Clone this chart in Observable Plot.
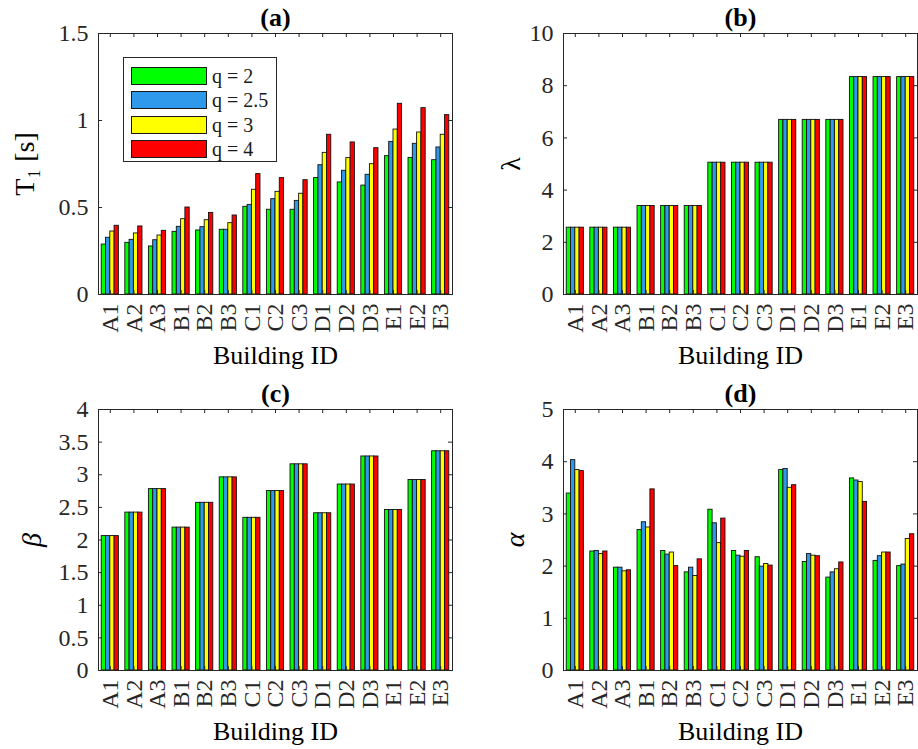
<!DOCTYPE html>
<html>
<head>
<meta charset="utf-8">
<script src="https://cdn.jsdelivr.net/npm/d3@7"></script>
<script src="https://cdn.jsdelivr.net/npm/@observablehq/plot@0.6"></script>
<style>
  body { margin: 0; background: #fff; }
  #fig { position: relative; width: 918px; height: 749px; font-family: "Liberation Serif", "DejaVu Serif", serif; color: #262626; }
  #fig svg, #fig svg text { font-family: "Liberation Serif", "DejaVu Serif", serif !important; }
  .panel { position: absolute; }
  .legend { position: absolute; box-sizing: border-box; background: #fff; border: 1px solid #262626; padding: 6px 0 0 7px; }
  .legend .row { display: flex; align-items: center; height: 24.3px; }
  .legend .sw { width: 76px; height: 18px; box-sizing: border-box; border: 1px solid #1a1a1a; margin-right: 5px; }
  .legend .lab { font-size: 20px; line-height: 18px; color: #1a1a1a; }
</style>
</head>
<body>
<div id="fig"></div>
<script>
// Building identifiers along every x axis
const buildings = ["A1", "A2", "A3", "B1", "B2", "B3", "C1", "C2", "C3", "D1", "D2", "D3", "E1", "E2", "E3"];

// Behaviour factors and their bar colours
const qLabels = ["q = 2", "q = 2.5", "q = 3", "q = 4"];
const qColors = ["#00ff00", "#2e98ea", "#ffff00", "#ff0000"];

// (a) fundamental period T1 [s]
const periodQ2  = [0.287, 0.297, 0.276, 0.360, 0.368, 0.372, 0.504, 0.487, 0.487, 0.670, 0.644, 0.626, 0.795, 0.785, 0.772];
const periodQ25 = [0.326, 0.314, 0.312, 0.389, 0.387, 0.372, 0.515, 0.548, 0.538, 0.743, 0.711, 0.688, 0.877, 0.866, 0.845];
const periodQ3  = [0.362, 0.351, 0.339, 0.433, 0.427, 0.410, 0.602, 0.590, 0.579, 0.814, 0.784, 0.749, 0.948, 0.931, 0.918];
const periodQ4  = [0.395, 0.391, 0.366, 0.500, 0.469, 0.454, 0.692, 0.669, 0.657, 0.918, 0.874, 0.841, 1.096, 1.071, 1.031];

// (b) lambda, identical for every q
const lambda = [2.56, 2.56, 2.56, 3.39, 3.39, 3.39, 5.05, 5.05, 5.05, 6.69, 6.69, 6.69, 8.33, 8.33, 8.33];

// (c) beta, identical for every q
const beta = [2.06, 2.42, 2.78, 2.19, 2.57, 2.96, 2.34, 2.75, 3.16, 2.41, 2.85, 3.28, 2.46, 2.92, 3.36];

// (d) alpha
const alphaQ2  = [3.39, 2.28, 1.97, 2.69, 2.29, 1.88, 3.08, 2.29, 2.17, 3.84, 2.08, 1.78, 3.68, 2.10, 2.00];
const alphaQ25 = [4.03, 2.29, 1.97, 2.84, 2.22, 1.97, 2.82, 2.20, 1.99, 3.86, 2.23, 1.88, 3.64, 2.19, 2.03];
const alphaQ3  = [3.84, 2.23, 1.90, 2.74, 2.26, 1.81, 2.44, 2.18, 2.04, 3.50, 2.20, 1.94, 3.61, 2.26, 2.52];
const alphaQ4  = [3.82, 2.28, 1.92, 3.47, 2.00, 2.13, 2.91, 2.29, 2.01, 3.55, 2.19, 2.07, 3.23, 2.26, 2.61];

// y-axis ticks per panel
const ticksA = [0, 0.5, 1, 1.5];
const ticksB = [0, 2, 4, 6, 8, 10];
const ticksC = [0, 0.5, 1, 1.5, 2, 2.5, 3, 3.5, 4];
const ticksD = [0, 1, 2, 3, 4, 5];

const ink = "#262626";
const serif = "Liberation Serif, DejaVu Serif, serif";
const fig = document.getElementById("fig");

function panel({title, ylabel, yItalic, series, yMax, yTicks, labelOffset, left, top, marginLeft, marginRight}) {
  const width = 459, height = 374, marginTop = 33, marginBottom = 80;
  const innerW = width - marginLeft - marginRight;
  const innerH = height - marginTop - marginBottom;
  const idx = buildings.map((_, i) => i + 1);

  // grouped bars: group occupies n/(n+1.5) of each category slot
  const groupW = series.length / (series.length + 1.5);
  const barW = groupW / series.length;
  const rows = [];
  series.forEach((vals, s) => vals.forEach((v, i) => rows.push({pos: i + 1, s, q: qLabels[s], v})));
  const x1 = d => d.pos - groupW / 2 + barW * d.s;

  const chart = Plot.plot({
    width, height, marginLeft, marginRight, marginTop, marginBottom,
    x: {domain: [0.5, buildings.length + 0.5]},
    y: {domain: [0, yMax]},
    color: {domain: qLabels, range: qColors},
    style: {fontFamily: serif, fontSize: "24px", color: ink, background: "transparent", overflow: "visible"},
    marks: [
      Plot.rectY(rows, {x1, x2: d => x1(d) + barW, y1: 0, y2: "v", fill: "q", stroke: "#111", strokeWidth: 0.9}),
      Plot.frame({stroke: ink, strokeWidth: 1}),
      // inward ticks on all four sides
      Plot.ruleX(idx, {x: d => d, insetTop: innerH - 4, stroke: ink}),
      Plot.ruleX(idx, {x: d => d, insetBottom: innerH - 4, stroke: ink}),
      Plot.ruleY(yTicks, {y: d => d, insetLeft: innerW - 4, stroke: ink}),
      Plot.ruleY(yTicks, {y: d => d, insetRight: innerW - 4, stroke: ink}),
      Plot.axisX(idx, {tickSize: 0, tickPadding: 9, tickRotate: -90, tickFormat: i => buildings[i - 1], label: null, fontSize: 24, fontFamily: serif}),
      Plot.axisY(yTicks, {tickSize: 0, tickPadding: 10, tickFormat: d => String(d), label: null, fontSize: 24, fontFamily: serif}),
      Plot.text(["Building ID"], {frameAnchor: "bottom", lineAnchor: "middle", dy: 61, fontSize: 26, fontFamily: serif, fill: "#000"}),
      Plot.text([ylabel], {frameAnchor: "left", textAnchor: "middle", lineAnchor: "middle", dx: -labelOffset, rotate: -90, fontSize: 28, fontFamily: serif, fontStyle: yItalic ? "italic" : "normal", fill: "#000"}),
      Plot.text([title], {frameAnchor: "top", lineAnchor: "middle", dy: -16, fontSize: 26, fontFamily: serif, fontWeight: "bold", fill: "#000"})
    ]
  });
  chart.classList.add("panel");
  chart.style.left = left + "px";
  chart.style.top = top + "px";
  fig.appendChild(chart);
}

panel({title: "(a)", ylabel: "T\u2081 [s]", series: [periodQ2, periodQ25, periodQ3, periodQ4], yMax: 1.5, yTicks: ticksA,
       labelOffset: 73, left: 0, top: 0, marginLeft: 98, marginRight: 7});
panel({title: "(b)", ylabel: "\u03bb", series: [lambda, lambda, lambda, lambda], yMax: 10, yTicks: ticksB,
       labelOffset: 52, left: 459, top: 0, marginLeft: 104, marginRight: 1});
panel({title: "(c)", ylabel: "\u03b2", yItalic: true, series: [beta, beta, beta, beta], yMax: 4, yTicks: ticksC,
       labelOffset: 66, left: 0, top: 376, marginLeft: 98, marginRight: 7});
panel({title: "(d)", ylabel: "\u03b1", yItalic: true, series: [alphaQ2, alphaQ25, alphaQ3, alphaQ4], yMax: 5, yTicks: ticksD,
       labelOffset: 48, left: 459, top: 376, marginLeft: 104, marginRight: 1});

// legend inside panel (a)
const legend = document.createElement("div");
legend.className = "legend";
Object.assign(legend.style, {left: "123px", top: "57px", width: "154px", height: "105px"});
qLabels.forEach((q, i) => {
  const row = document.createElement("div");
  row.className = "row";
  const sw = document.createElement("span");
  sw.className = "sw";
  sw.style.background = qColors[i];
  const lab = document.createElement("span");
  lab.className = "lab";
  lab.textContent = q;
  row.append(sw, lab);
  legend.appendChild(row);
});
fig.appendChild(legend);
</script>
</body>
</html>
